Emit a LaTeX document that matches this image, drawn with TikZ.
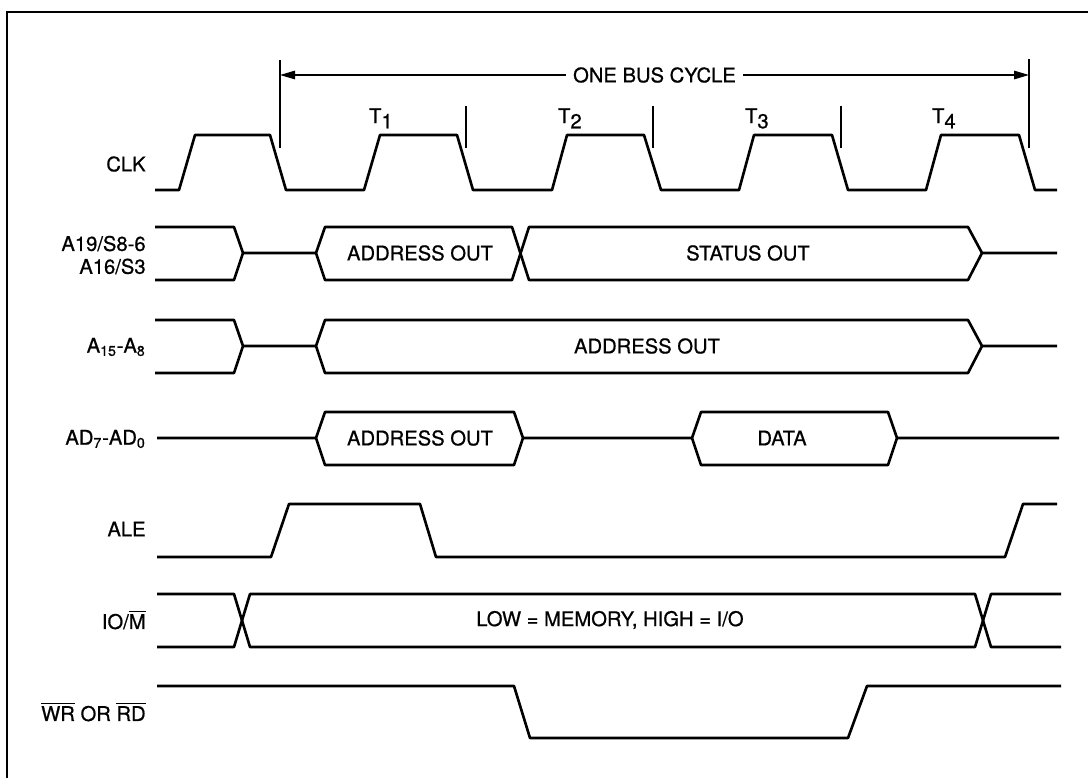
\documentclass[tikz,border=0pt]{standalone}
\usepackage{fontspec}
\setmainfont{TeX Gyre Heros}
\newfontfamily\heavyfont[FakeBold=0.7]{TeX Gyre Heros}
\usetikzlibrary{arrows.meta}

\begin{document}
\begin{tikzpicture}[
  x=0.02cm, y=-0.02cm,
  sig/.style={line width=1.5pt, line join=round},
  guide/.style={line width=0.75pt},
  frame/.style={line width=1pt},
  lbl/.style={anchor=east, align=right, inner sep=0pt, font=\heavyfont\fontsize{11.5}{13}\selectfont},
  txt/.style={inner sep=1pt, font=\heavyfont\fontsize{11.5}{13}\selectfont},
  arrow/.style={guide, {Triangle[length=3mm,width=1.7mm]}-{Triangle[length=3mm,width=1.7mm]}}
]
\useasboundingbox (0,0) rectangle (1088,778);
\draw[frame] (7,778) -- (7,12) -- (1088,12);

% bus cycle span
\coordinate (bcL) at (280,75);
\coordinate (bcR) at (1029,75);
\draw[guide] (280,60) -- (280,148);
\draw[guide] (1029,59) -- (1029,148);
\draw[arrow] (bcL) -- node[txt, fill=white, inner xsep=4pt] (cyc) {ONE BUS CYCLE} (bcR);
\draw[guide] (466,106) -- (466,148);
\draw[guide] (653,106) -- (653,148);
\draw[guide] (841,106) -- (841,148);
\node[txt, anchor=base west] (t1) at (367,123) {T\raisebox{-0.5ex}{1}};
\node[txt, anchor=base west] (t2) at (556,123) {T\raisebox{-0.5ex}{2}};
\node[txt, anchor=base west] (t3) at (743,123) {T\raisebox{-0.5ex}{3}};
\node[txt, anchor=base west] (t4) at (930,123) {T\raisebox{-0.5ex}{4}};

% signal names
\node[lbl] (clk) at (146,164) {CLK};
\node[lbl] (ahi) at (146,255) {A19/S8-6\\A16/S3};
\node[lbl] (amid) at (146,347) {A\textsubscript{15}-A\textsubscript{8}};
\node[lbl] (ad) at (146,439) {AD\textsubscript{7}-AD\textsubscript{0}};
\node[lbl] (ale) at (146,529) {ALE};
\node[lbl] (iom) at (146,620) {IO/$\overline{\hbox{M}}$};
\node[lbl] (wrrd) at (146,712) {$\overline{\hbox{WR}}$ OR $\overline{\hbox{RD}}$};

% CLK
\draw[sig] (155,190) -- (179,190) -- (195,135) -- (270,135) -- (286,190) -- (364,190) -- (380,135)
  -- (457,135) -- (473,190) -- (552,190) -- (567,135) -- (644,135) -- (661,190) -- (739,190)
  -- (754,135) -- (832,135) -- (848,190) -- (926,190) -- (941,135) -- (1019,135) -- (1035,190) -- (1057,190);

% A19/S8-6, A16/S3
\draw[sig] (155,227) -- (234,227) -- (243,253) -- (316,253) -- (325,227) -- (512,227) -- (529,280)
  -- (968,280) -- (982,253) -- (1057,253);
\draw[sig] (155,280) -- (234,280) -- (243,253);
\draw[sig] (316,253) -- (325,280) -- (512,280) -- (529,227) -- (968,227) -- (982,253);
\node[txt] (ao1) at (420,253) {ADDRESS OUT};
\node[txt] (so) at (748,253) {STATUS OUT};

% A15-A8
\draw[sig] (155,320) -- (234,320) -- (243,346) -- (316,346) -- (325,320) -- (968,320) -- (982,346) -- (1057,346);
\draw[sig] (155,373) -- (234,373) -- (243,346);
\draw[sig] (316,346) -- (325,373) -- (968,373) -- (982,346);
\node[txt] (ao2) at (647,346) {ADDRESS OUT};

% AD7-AD0
\draw[sig] (157,438) -- (316,438) -- (325,412) -- (514,412) -- (523,438) -- (692,438) -- (701,412)
  -- (888,412) -- (897,438) -- (1059,438);
\draw[sig] (316,438) -- (325,465) -- (514,465) -- (523,438);
\draw[sig] (692,438) -- (701,465) -- (888,465) -- (897,438);
\node[txt] (ao3) at (420,438) {ADDRESS OUT};
\node[txt] (dat) at (782,438) {DATA};

% ALE
\draw[sig] (157,557) -- (271,557) -- (289,504) -- (420,504) -- (436,557) -- (1005,557) -- (1023,504) -- (1057,504);

% IO/M
\draw[sig] (157,594) -- (234,594) -- (250,647) -- (975,647) -- (991,594) -- (1061,594);
\draw[sig] (157,647) -- (234,647) -- (250,594) -- (975,594) -- (991,647) -- (1061,647);
\node[txt] (lohi) at (610,620) {LOW = MEMORY, HIGH = I/O};

% WR or RD
\draw[sig] (157,686) -- (514,686) -- (530,738) -- (848,738) -- (867,686) -- (1061,686);
\end{tikzpicture}
\end{document}
